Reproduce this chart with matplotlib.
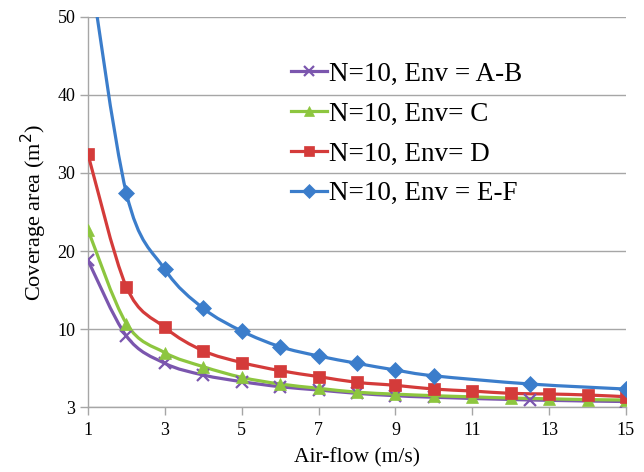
import numpy as np
import matplotlib
matplotlib.use("Agg")
import matplotlib.pyplot as plt
from matplotlib.path import Path
from matplotlib.patches import PathPatch
from matplotlib.lines import Line2D

plt.rcParams['font.family'] = ['Liberation Serif', 'DejaVu Serif']

# Data (values as plotted, y axis bottom labelled "3")
x_ab = [1, 2, 3, 4, 5, 6, 7, 8, 9, 10, 12.5, 15]
y_ab = [18.8, 9.1, 5.6, 4.1, 3.25, 2.6, 2.18, 1.75, 1.45, 1.25, 0.9, 0.7]

x_c = [1, 2, 3, 4, 5, 6, 7, 8, 9, 10, 11, 12, 13, 14, 15]
y_c = [22.7, 10.7, 6.97, 5.17, 3.8, 2.95, 2.4, 1.9, 1.65, 1.45, 1.3, 1.15, 1.05, 0.95, 0.9]

x_d = [1, 2, 3, 4, 5, 6, 7, 8, 9, 10, 11, 12, 13, 14, 15]
y_d = [32.4, 15.4, 10.2, 7.2, 5.7, 4.66, 3.9, 3.16, 2.78, 2.3, 2.05, 1.75, 1.67, 1.54, 1.32]

x_ef = [1, 2, 3, 4, 5, 6, 7, 8, 9, 10, 12.5, 15]
y_ef = [58.0, 27.4, 17.65, 12.65, 9.74, 7.73, 6.54, 5.6, 4.74, 4.0, 2.95, 2.3]

labels = ["N=10, Env = A-B", "N=10, Env= C", "N=10, Env= D", "N=10, Env = E-F"]
x_ticks = [1, 3, 5, 7, 9, 11, 13, 15]
y_ticks = [0, 10, 20, 30, 40, 50]
y_tick_labels = ["3", "10", "20", "30", "40", "50"]

colors = ["#7B56AE", "#8DC63F", "#D43B3A", "#3B7DCB"]
markers = ["x", "^", "s", "D"]
msizes = [8, 8.5, 8, 8]


def smooth_path(xs, ys, t=1/6):
    xs = np.asarray(xs, float)
    ys = np.asarray(ys, float)
    n = len(xs)
    verts = [(xs[0], ys[0])]
    codes = [Path.MOVETO]
    for i in range(n - 1):
        p0 = np.array([xs[max(i - 1, 0)], ys[max(i - 1, 0)]])
        p1 = np.array([xs[i], ys[i]])
        p2 = np.array([xs[i + 1], ys[i + 1]])
        p3 = np.array([xs[min(i + 2, n - 1)], ys[min(i + 2, n - 1)]])
        c1 = p1 + (p2 - p0) * t
        c2 = p2 - (p3 - p1) * t
        verts += [tuple(c1), tuple(c2), tuple(p2)]
        codes += [Path.CURVE4] * 3
    return Path(verts, codes)


fig = plt.figure(figsize=(6.44, 4.72), dpi=100)
ax = fig.add_axes([0.1366, 0.1377, 0.972 - 0.1366, 0.964 - 0.1377])

series = [(x_ab, y_ab), (x_c, y_c), (x_d, y_d), (x_ef, y_ef)]
handles = []
for (xs, ys), c, m, ms, lab in zip(series, colors, markers, msizes, labels):
    patch = PathPatch(smooth_path(xs, ys), facecolor='none', edgecolor=c,
                      lw=2.3, zorder=3, capstyle='round', joinstyle='round')
    ax.add_patch(patch)
    mew = 1.6 if m == 'x' else 0.5
    ax.plot(xs, ys, linestyle='none', marker=m, markersize=ms, color=c,
            markeredgecolor=c, markeredgewidth=mew, zorder=4)
    handles.append(Line2D([], [], color=c, lw=2.3, marker=m, markersize=ms - 1,
                          markeredgewidth=mew, markeredgecolor=c))

ax.set_xlim(1, 15)
ax.set_ylim(0, 50)
ax.set_xticks(x_ticks)
ax.set_yticks(y_ticks)
ax.set_yticklabels(y_tick_labels)
ax.yaxis.grid(True, color='#A6A6A6', lw=1.0)
ax.set_axisbelow(True)
for s in ['top', 'right']:
    ax.spines[s].set_visible(False)
for s in ['left', 'bottom']:
    ax.spines[s].set_color('#A6A6A6')
    ax.spines[s].set_linewidth(1.0)
ax.tick_params(axis='both', colors='#A6A6A6', labelcolor='black', labelsize=13,
               length=6, width=1.0)
ax.tick_params(axis='x', pad=5)
ax.tick_params(axis='y', pad=3)

ax.set_xlabel("Air-flow (m/s)", fontsize=15.5, labelpad=6)
ax.set_ylabel("Coverage area (m$^2$)", fontsize=16, labelpad=6)

leg = ax.legend(handles, labels, loc='center left', bbox_to_anchor=(0.378, 0.70),
                frameon=False, fontsize=19.5, handlelength=1.3, handletextpad=0.1,
                labelspacing=0.55, borderaxespad=0, borderpad=0)

fig.savefig("out.png", dpi=100)
